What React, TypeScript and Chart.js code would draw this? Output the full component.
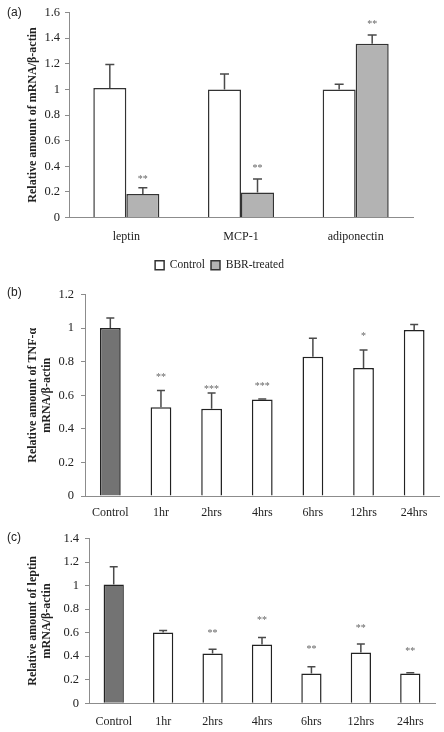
import React, { useEffect, useRef } from "react";
import { Chart, registerables } from "chart.js";
Chart.register(...registerables);

// ---------- Panel (a) ----------
const genesA = ["leptin", "MCP-1", "adiponectin"];
const controlA = [1.01, 1.0, 1.0];
const controlErrA = [0.185, 0.12, 0.04];
const bbrA = [0.183, 0.196, 1.357];
const bbrErrA = [0.05, 0.105, 0.067];
const bbrStarsA = ["**", "**", "**"];
const bbrStarPosA = [0.31, 0.4, 1.525];

// ---------- Panel (b) ----------
const timesB = ["Control", "1hr", "2hrs", "4hrs", "6hrs", "12hrs", "24hrs"];
const tnfB = [1.0, 0.529, 0.519, 0.574, 0.829, 0.762, 0.989];
const tnfErrB = [0.06, 0.099, 0.095, 0.004, 0.111, 0.107, 0.033];
const starsB = ["", "**", "***", "***", "", "*", ""];
const starPosB = [0, 0.716, 0.647, 0.667, 0, 0.963, 0];

// ---------- Panel (c) ----------
const timesC = ["Control", "1hr", "2hrs", "4hrs", "6hrs", "12hrs", "24hrs"];
const leptinC = [1.009, 0.602, 0.424, 0.5, 0.254, 0.432, 0.254];
const leptinErrC = [0.15, 0.017, 0.036, 0.06, 0.056, 0.071, 0.006];
const starsC = ["", "", "**", "**", "**", "**", "**"];
const starPosC = [0, 0, 0.613, 0.721, 0.475, 0.656, 0.461];

const SERIF = "'Liberation Serif', 'Times New Roman', serif";
const SANS = "'Liberation Sans', Arial, sans-serif";
const xFont = { family: SERIF, size: 12 };
const yFont = { family: SERIF, size: 12.5 };
const legendFont = { family: SERIF, size: 11.5 };

type Decor = {
  letter: string;
  titleLines: string[];
  titleXs: number[];
  errors: number[][];
  stars: string[][];
  starPos: number[][];
  capHalf: number;
  legendShift: number;
};

function makeDecor(d: Decor) {
  return {
    id: "decor",
    afterLayout(chart: any) {
      if (chart.legend && d.legendShift) {
        chart.legend.left += d.legendShift;
        chart.legend.right += d.legendShift;
      }
    },
    afterDatasetsDraw(chart: any) {
      const ctx = chart.ctx;
      const ys = chart.scales.y;
      ctx.save();
      chart.data.datasets.forEach((ds: any, i: number) => {
        const meta = chart.getDatasetMeta(i);
        meta.data.forEach((el: any, j: number) => {
          const v = ds.data[j];
          const e = d.errors[i][j];
          const yTop = el.y;
          const yErr = ys.getPixelForValue(v + e);
          ctx.strokeStyle = "#4a4a4a";
          ctx.lineWidth = 1.5;
          ctx.beginPath();
          ctx.moveTo(el.x, yTop);
          ctx.lineTo(el.x, yErr);
          ctx.moveTo(el.x - d.capHalf, yErr);
          ctx.lineTo(el.x + d.capHalf, yErr);
          ctx.stroke();
          const s = d.stars[i][j];
          if (s) {
            ctx.fillStyle = "#666";
            ctx.font = `10px ${SERIF}`;
            ctx.textAlign = "center";
            ctx.textBaseline = "middle";
            ctx.fillText(s, el.x, ys.getPixelForValue(d.starPos[i][j]) + 2);
          }
        });
      });
      ctx.restore();
    },
    afterDraw(chart: any) {
      const ctx = chart.ctx;
      const ca = chart.chartArea;
      ctx.save();
      ctx.fillStyle = "#222";
      ctx.font = `12px ${SANS}`;
      ctx.textAlign = "left";
      ctx.textBaseline = "middle";
      ctx.fillText(d.letter, 7, 13);
      const cy = (ca.top + ca.bottom) / 2;
      ctx.font = `bold 12px ${SERIF}`;
      ctx.textAlign = "center";
      d.titleLines.forEach((t, k) => {
        ctx.save();
        ctx.translate(d.titleXs[k], cy);
        ctx.rotate(-Math.PI / 2);
        ctx.fillText(t, 0, 0);
        ctx.restore();
      });
      ctx.restore();
    },
  };
}

function axes(max: number, yWidth: number, yPad: number, xHeight: number, xPad: number) {
  return {
    x: {
      grid: { display: false, drawTicks: false },
      border: { display: true, color: "#8c8c8c", width: 1 },
      ticks: { padding: xPad, color: "#222", font: xFont, maxRotation: 0, autoSkip: false },
      afterFit(s: any) {
        s.height = xHeight;
      },
    },
    y: {
      min: 0,
      max,
      ticks: {
        stepSize: 0.2,
        padding: yPad,
        color: "#222",
        font: yFont,
        callback: (v: any) => String(Number(Number(v).toFixed(2))),
      },
      grid: { drawOnChartArea: false, drawTicks: true, tickLength: 4, color: "#8c8c8c" },
      border: { display: true, color: "#8c8c8c", width: 1 },
      afterFit(s: any) {
        s.width = yWidth;
      },
    },
  };
}

function configA() {
  return {
    type: "bar",
    data: {
      labels: genesA,
      datasets: [
        { label: "Control", data: controlA, backgroundColor: "#ffffff", borderColor: "#333", borderWidth: 1.5, categoryPercentage: 0.576, barPercentage: 1 },
        { label: "BBR-treated", data: bbrA, backgroundColor: "#b3b3b3", borderColor: "#333", borderWidth: 1.5, categoryPercentage: 0.576, barPercentage: 1 },
      ],
    },
    options: {
      responsive: false,
      animation: false,
      layout: { padding: { top: 11, right: 31, bottom: 0, left: 0 } },
      scales: axes(1.6, 69, 5, 36, 12),
      plugins: {
        legend: {
          position: "bottom",
          labels: { boxWidth: 9, boxHeight: 9, padding: 6, color: "#222", font: legendFont },
        },
        tooltip: { enabled: false },
      },
    },
    plugins: [
      makeDecor({
        letter: "(a)",
        titleLines: ["Relative amount of mRNA/\u03b2-actin"],
        titleXs: [33],
        errors: [controlErrA, bbrErrA],
        stars: [["", "", ""], bbrStarsA],
        starPos: [[0, 0, 0], bbrStarPosA],
        capHalf: 4.5,
        legendShift: 13,
      }),
    ],
  };
}

function configTime(
  letter: string,
  labels: string[],
  vals: number[],
  errs: number[],
  stars: string[],
  starPos: number[],
  max: number,
  yWidth: number,
  yPad: number,
  rightPad: number,
  top: number,
  xHeight: number,
  xPad: number,
  titleLines: string[]
) {
  return {
    type: "bar",
    data: {
      labels,
      datasets: [
        {
          label: "value",
          data: vals,
          backgroundColor: labels.map((l) => (l === "Control" ? "#737373" : "#ffffff")),
          borderColor: "#222",
          borderWidth: 1.5,
          categoryPercentage: 1,
          barPercentage: 0.41,
        },
      ],
    },
    options: {
      responsive: false,
      animation: false,
      layout: { padding: { top, right: rightPad, bottom: 0, left: 0 } },
      scales: axes(max, yWidth, yPad, xHeight, xPad),
      plugins: { legend: { display: false }, tooltip: { enabled: false } },
    },
    plugins: [
      makeDecor({
        letter,
        titleLines,
        titleXs: [33, 47],
        errors: [errs],
        stars: [stars],
        starPos: [starPos],
        capHalf: 4,
        legendShift: 0,
      }),
    ],
  };
}

function Panel({ top, height, make }: { top: number; height: number; make: () => any }) {
  const ref = useRef<HTMLCanvasElement | null>(null);
  useEffect(() => {
    if (!ref.current) return;
    const chart = new Chart(ref.current, make());
    return () => chart.destroy();
  }, []);
  return (
    <canvas
      ref={ref}
      width={444}
      height={height}
      style={{ position: "absolute", left: 0, top, width: 444, height }}
    />
  );
}

export default function App() {
  return (
    <div style={{ position: "fixed", left: 0, top: 0, width: 444, height: 732, background: "#fff" }}>
      <Panel top={0} height={281} make={configA} />
      <Panel
        top={280}
        height={245}
        make={() =>
          configTime("(b)", timesB, tnfB, tnfErrB, starsB, starPosB, 1.2, 85, 7, 4.5, 13.3, 29, 10,
            ["Relative amount of TNF-\u03b1", "mRNA/\u03b2-actin"])
        }
      />
      <Panel
        top={525}
        height={207}
        make={() =>
          configTime("(c)", timesC, leptinC, leptinErrC, starsC, starPosC, 1.4, 89, 6, 9, 13.3, 28.7, 11,
            ["Relative amount of leptin", "mRNA/\u03b2-actin"])
        }
      />
    </div>
  );
}
